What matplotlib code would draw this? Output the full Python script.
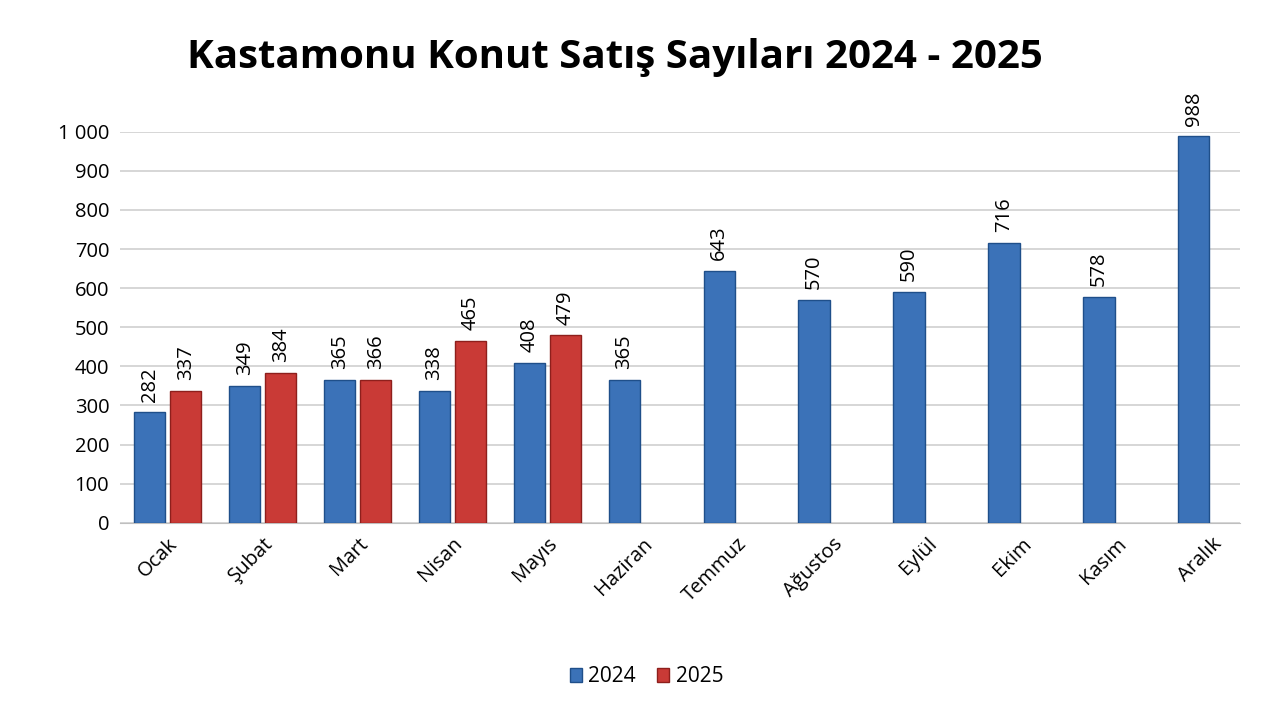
import matplotlib
matplotlib.use("Agg")
import matplotlib.pyplot as plt
import numpy as np

months = ["Ocak", "Şubat", "Mart", "Nisan", "Mayıs", "Haziran", "Temmuz",
          "Ağustos", "Eylül", "Ekim", "Kasım", "Aralık"]
sales_2024 = [282, 349, 365, 338, 408, 365, 643, 570, 590, 716, 578, 988]
sales_2025 = [337, 384, 366, 465, 479]
yticks = [0, 100, 200, 300, 400, 500, 600, 700, 800, 900, 1000]

plt.rcParams['font.family'] = ['Open Sans', 'DejaVu Sans']
fig = plt.figure(figsize=(12.8, 7.2), dpi=100)
ax = fig.add_axes([0.094, 0.274, 0.875, 0.543])

w = 0.33
off = 0.19
x24 = np.arange(len(sales_2024)) - off
x25 = np.arange(len(sales_2025)) + off
b1 = ax.bar(x24, sales_2024, w, color="#3b72b8", edgecolor="#1f4f8a", linewidth=1, label="2024", zorder=3)
b2 = ax.bar(x25, sales_2025, w, color="#c93a36", edgecolor="#8e1f1c", linewidth=1, label="2025", zorder=3)
for xs, vals in ((x24, sales_2024), (x25, sales_2025)):
    for xi, v in zip(xs, vals):
        ax.text(xi, v + 28, str(v), rotation=90, ha="center", va="bottom", fontsize=14.5)

ax.set_xlim(-0.5, 11.3)
ax.set_ylim(0, 1000)
ax.set_yticks(yticks)
ax.set_yticklabels([f"{t:,}".replace(",", " ") for t in yticks], fontsize=14.5)
ax.set_xticks(np.arange(len(months)))
ax.set_xticklabels(months, rotation=45, ha="right", rotation_mode="anchor", fontsize=14.5)
ax.tick_params(length=0, pad=8)
ax.yaxis.grid(True, color="#d0d0d0", linewidth=1.2, zorder=0)
for s in ["top", "right", "left"]:
    ax.spines[s].set_visible(False)
ax.spines["bottom"].set_color("#bfbfbf")

fig.text(0.48, 0.92, "Kastamonu Konut Satış Sayıları 2024 - 2025", ha="center", va="center",
         fontsize=29, fontweight="bold")
fig.legend(handles=[b1, b2], loc="center", bbox_to_anchor=(0.505, 0.06), ncol=2, frameon=False,
           fontsize=15, handlelength=0.6, handleheight=0.6, columnspacing=1.0, handletextpad=0.3)
fig.savefig("out.png", dpi=100)
